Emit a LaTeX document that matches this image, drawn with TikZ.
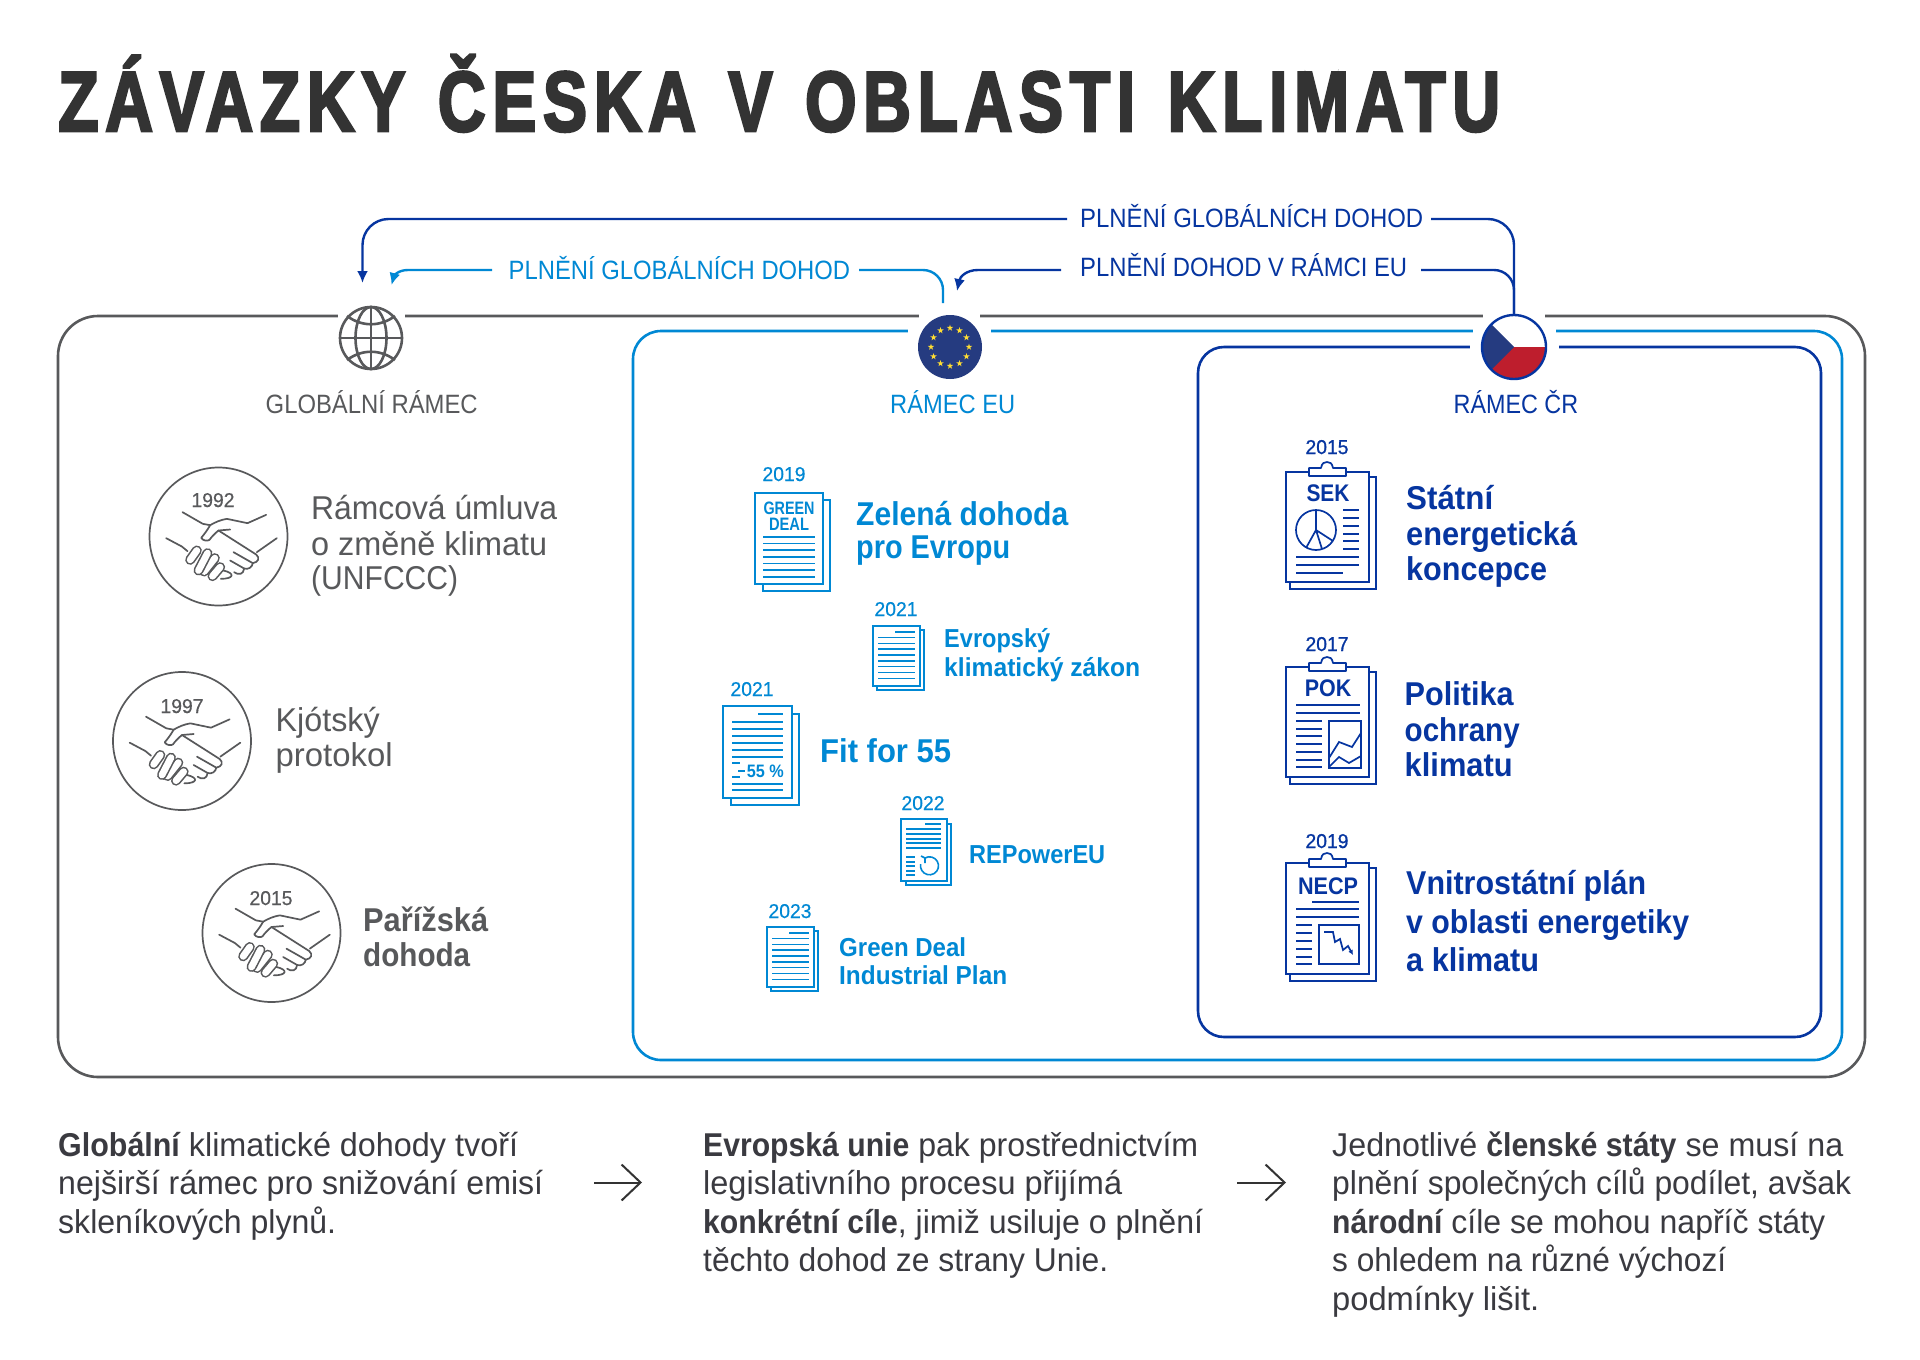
\documentclass[tikz,border=0pt]{standalone}
\usepackage{fontspec}
\usepackage{graphicx}
\setmainfont{Liberation Sans}
\newfontfamily\ttlf[LetterSpace=10,WordSpace=1.3,BoldFeatures={FakeBold=3.5}]{Liberation Sans}
\newfontfamily\medf[FakeBold=0.8]{Liberation Sans}
\newfontfamily\medg[FakeBold=0.4]{Liberation Sans}
\usetikzlibrary{arrows.meta}
\definecolor{gr}{HTML}{58595B}
\definecolor{cy}{HTML}{0088D4}
\definecolor{db}{HTML}{0635A0}
\definecolor{ttl}{HTML}{333333}
\definecolor{nvy}{HTML}{253B80}
\definecolor{rd}{HTML}{BE1E2D}
\definecolor{yl}{HTML}{FFDD33}
\definecolor{bt}{HTML}{3A3A40}
\newsavebox\fitbox
\newcommand\fitw[2]{\sbox\fitbox{#2}\pgfmathsetmacro\fitr{#1/\wd\fitbox}\scalebox{\fitr}[1]{\usebox\fitbox}}
\newcommand\bb[1]{\scalebox{0.94}[1]{\bfseries #1}}
% \T[style]{name}{x}{baseline y}{width}{text}
\newcommand\T[6][]{\node[anchor=base west,inner sep=0pt,#1] (#2) at (#3,#4) {\fitw{#5}{#6}};}
\newcommand\Y[5]{\node[anchor=base,inner sep=0pt,yearstyle,text=#1] (#2) at (#3,#4) {\fitw{43}{#5}};}
\newcommand\hands[2]{%
\begin{scope}[xshift=#1pt,yshift=-#2pt,x=0.3333pt,y=-0.3333pt,shift={(-265,-258)},line width=1.7pt,gr,line cap=round,line join=round]
\draw (157,185)--(218,220)--(240,224) .. controls (255,215) and (272,208) .. (290,205)--(352,218)--(408,193);
\draw (108,263)--(155,288)--(172,302);
\draw (440,263)--(380,305);
\draw (240,224) .. controls (232,238) and (222,252) .. (213,262) .. controls (220,272) and (232,272) .. (238,268) .. controls (245,258) and (255,248) .. (265,240)--(300,237);
\draw (265,240)--(378,312) .. controls (390,322) and (385,335) .. (368,338)--(310,305);
\draw (368,338) .. controls (366,350) and (355,358) .. (342,354)--(300,330);
\draw (342,354) .. controls (340,372) and (325,375) .. (312,365);
\draw (280,360) .. controls (315,368) and (312,385) .. (272,385);
\foreach \a/\b/\c/\d in {247/377/270/350,222/363/254/323,205/360/232/308,180/328/200/300}{
\draw[line width=10pt,gr] (\a,\b)--(\c,\d);
\draw[line width=6.8pt,white] (\a,\b)--(\c,\d);}
\end{scope}}
\newcommand\clipdoc[2]{%
\draw[docl,fill=white] (1290,#1+5) rectangle (1376,#2+7);
\draw[docl,fill=white] (1286,#1) rectangle (1369,#2);
\draw[docl,fill=white,line join=round] (1309,#1-4) -- (1321,#1-4) .. controls (1322,#1-9) and (1324,#1-10) .. (1327,#1-10) .. controls (1330,#1-10) and (1332,#1-9) .. (1333,#1-4) -- (1346,#1-4) -- (1346,#1+4) -- (1309,#1+4) -- cycle;
}
\tikzset{
 x=1pt,y=-1pt,
 mybox/.style={line width=2.6pt,rounded corners=#1},
 yearstyle/.style={font=\medg\fontsize{20}{22}\selectfont},
 docl/.style={line width=1.6pt,color=cy},
 link/.style={line width=2.4pt},
 tip/.style={-{Latex[length=12pt,width=11pt]}},
 gtxt/.style={font=\fontsize{33}{36}\selectfont,text=gr},
 gbold/.style={font=\fontsize{33}{36}\selectfont\bfseries,text=gr},
 hdr/.style={font=\fontsize{26.5}{30}\selectfont},
 body/.style={font=\fontsize{33}{36}\selectfont,text=bt},
 eubig/.style={font=\fontsize{33}{36}\selectfont\bfseries,text=cy},
 eusm/.style={font=\fontsize{26}{30}\selectfont\bfseries,text=cy},
 crbig/.style={font=\fontsize{33}{36}\selectfont\bfseries,text=db},
 doctitle/.style={anchor=base,inner sep=0pt,font=\fontsize{24}{24}\selectfont\bfseries,text=db},
 gdtitle/.style={anchor=base,inner sep=0pt,font=\fontsize{18}{18}\selectfont\bfseries,text=cy},
 hcircle/.style={circle,draw=gr,line width=1.7pt,minimum size=138pt,inner sep=0pt},
 badge/.style={circle,minimum size=64pt,inner sep=0pt},
 thinarrow/.style={color=ttl,line width=2pt,-{Straight Barb[length=19pt,width=36pt]}},
}
\begin{document}
\begin{tikzpicture}
\useasboundingbox (0,0) rectangle (1920,1360);
\fill[white] (0,0) rectangle (1920,1360);
% title
\T[font=\ttlf\bfseries\fontsize{85}{96}\selectfont,text=ttl]{title}{58}{131}{1442}{ZÁVAZKY ČESKA V OBLASTI KLIMATU}
% boxes
\draw[mybox=40pt,gr] (58,316) rectangle (1865,1077);
\draw[mybox=28pt,cy] (633,331) rectangle (1842,1060);
\draw[mybox=26pt,db] (1198,347) rectangle (1821,1037);
% knockouts
\foreach \a/\b in {338/405,919/980,1483/1545}{\draw[white,line width=5pt] (\a,316)--(\b,316);}
\foreach \a/\b in {908/991,1473/1556}{\draw[white,line width=5pt] (\a,331)--(\b,331);}
\draw[white,line width=5pt] (1470,347)--(1559,347);
% badges
\node[badge] (globe) at (371,338) {};
\node[badge] (eu) at (950,347) {};
\node[badge] (cz) at (1514,347) {};
% globe
\begin{scope}[gr,line width=2.6pt]
\draw (globe.center) circle (31);
\draw (globe.center) ellipse (15.5 and 31);
\draw (371,307)--(371,369);
\draw (340,338)--(402,338);
\draw (347,316) .. controls (362,327) and (380,327) .. (395,316);
\draw (347,360) .. controls (362,349) and (380,349) .. (395,360);
\end{scope}
% EU flag
\fill[nvy] (eu.center) circle (32);
\foreach \a in {0,30,...,330}{
\fill[yl,shift={(eu.center)},shift={(\a:19)}] (270:3.4)--(54:3.4)--(198:3.4)--(342:3.4)--(126:3.4)--cycle;}
% CZ flag
\begin{scope}
\clip (cz.center) circle (32);
\fill[white] (1482,315) rectangle (1546,347);
\fill[rd] (1482,347) rectangle (1546,379);
\fill[nvy] (1514,347)--(1470,303)--(1470,391)--cycle;
\end{scope}
\draw[db,line width=2.4pt] (cz.center) circle (32);
% connector labels
\T[hdr,text=db]{lglob}{1080}{227}{343}{PLNĚNÍ GLOBÁLNÍCH DOHOD}
\T[hdr,text=db]{leu}{1080}{276}{327}{PLNĚNÍ DOHOD V RÁMCI EU}
\T[hdr,text=cy]{lcy}{508.5}{279}{341.5}{PLNĚNÍ GLOBÁLNÍCH DOHOD}
% connectors
\coordinate (a1r) at (1431,219); \coordinate (a1l) at (1067,219); \coordinate (a1t) at (362.5,283); \coordinate (a1c) at (362.5,219);
\coordinate (a2r) at (1421,270); \coordinate (a2l) at (1061,270); \coordinate (a2t) at (957,291);
\coordinate (a3r) at (859,270); \coordinate (a3l) at (492,270); \coordinate (a3t) at (391.5,285); \coordinate (a3s) at (943,303); \coordinate (a3c) at (943,270);
\draw[link,db,rounded corners=26pt] (cz.north) |- (a1r);
\draw[link,db,rounded corners=26pt,tip] (a1l) -- (a1c) -- (a1t);
\draw[link,db,rounded corners=20pt] (cz.north) |- (a2r);
\draw[link,db,tip] (a2l) -- (978,270) .. controls (966,270) and (960,277) .. (a2t);
\draw[link,cy,rounded corners=20pt] (a3s) -- (a3c) -- (a3r);
\draw[link,cy,tip] (a3l) -- (408,270) .. controls (398,270) and (394,276) .. (a3t);
% headers
\T[hdr,text=gr]{hg}{265.5}{413}{212}{GLOBÁLNÍ RÁMEC}
\T[hdr,text=cy]{he}{890}{413}{125}{RÁMEC EU}
\T[hdr,text=db]{hc}{1453.5}{413}{124.5}{RÁMEC ČR}
% global column
\node[hcircle] (c1) at (218.5,536.5) {};
\node[hcircle] (c2) at (182,741) {};
\node[hcircle] (c3) at (271.5,933) {};
\hands{218.5}{536.5}\hands{182}{741}\hands{271.5}{933}
\Y{gr}{y1}{213}{507}{1992}
\Y{gr}{y2}{182}{713}{1997}
\Y{gr}{y3}{271}{905}{2015}
\T[gtxt]{g1a}{311}{519}{246}{Rámcová úmluva}
\T[gtxt]{g1b}{311}{555}{236}{o změně klimatu}
\T[gtxt]{g1c}{311}{589}{147}{(UNFCCC)}
\T[gtxt]{g2a}{275.5}{731}{104}{Kjótský}
\T[gtxt]{g2b}{275.5}{766}{117}{protokol}
\T[gbold]{g3a}{363}{931}{125}{Pařížská}
\T[gbold]{g3b}{363}{966}{107}{dohoda}
% EU docs
\Y{cy}{ey1}{784}{481}{2019}
\draw[docl,fill=white] (763,500) rectangle (830,591);
\draw[docl,fill=white] (755,493) rectangle (823,584);
\node[gdtitle] (gd1) at (789,514) {\fitw{51}{GREEN}};
\node[gdtitle] (gd2) at (789,530) {\fitw{40}{DEAL}};
\foreach \y in {537,543.5,550,557,563.5,570,577}{\draw[docl] (763,\y)--(815,\y);}
\T[eubig]{e1a}{856}{525}{212}{Zelená dohoda}
\T[eubig]{e1b}{856}{558}{154}{pro Evropu}
% doc 2
\Y{cy}{ey2}{896}{616}{2021}
\draw[docl,fill=white] (877,630) rectangle (924,690);
\draw[docl,fill=white] (873,626) rectangle (920,686);
\draw[docl] (895,632)--(915,632);
\foreach \y in {637.5,643.5,649,655,661,666.5,672.5,678.5}{\draw[docl] (878,\y)--(915,\y);}
\T[eusm]{e2a}{944}{647}{106}{Evropský}
\T[eusm]{e2b}{944}{676}{196}{klimatický zákon}
% doc 3
\Y{cy}{ey3}{752}{696}{2021}
\draw[docl,fill=white] (731,714) rectangle (799,805);
\draw[docl,fill=white] (723,706) rectangle (792,798);
\draw[docl] (758,714)--(783,714);
\foreach \y in {722,729,736,743,750,757,784,790}{\draw[docl] (732,\y)--(783,\y);}
\draw[docl] (732,763)--(740,763) (738,771)--(745,771) (732,777)--(740,777);
\node[anchor=base east,inner sep=0pt,font=\fontsize{18}{18}\selectfont\bfseries,text=cy] (p55) at (784,777) {\fitw{37}{55 \%}};
\T[eubig]{e3}{820}{762}{131}{Fit for 55}
% doc 4
\Y{cy}{ey4}{923}{810}{2022}
\draw[docl,fill=white] (906,824) rectangle (951,885);
\draw[docl,fill=white] (901,819) rectangle (947,881);
\draw[docl] (925,824)--(941,824);
\foreach \y in {829,834,839,843,848}{\draw[docl] (906,\y)--(941,\y);}
\foreach \y in {857,862,866,871,875}{\draw[docl] (906,\y)--(915,\y);}
\draw[docl] (925,858) arc (-120:190:9);
\draw[docl] (925,858)--(921,856) (925,858)--(925,863);
\T[eusm]{e4}{969}{863}{136}{REPowerEU}
% doc 5
\Y{cy}{ey5}{790}{918}{2023}
\draw[docl,fill=white] (771,931) rectangle (818,991);
\draw[docl,fill=white] (767,927) rectangle (814,987);
\draw[docl] (789,933)--(809,933);
\foreach \y in {938.5,944.5,950,956,962,967.5,973.5,979.5}{\draw[docl] (772,\y)--(809,\y);}
\T[eusm]{e5a}{839}{956}{127}{Green Deal}
\T[eusm]{e5b}{839}{984}{168}{Industrial Plan}
% CR docs
\tikzset{docl/.style={line width=1.7pt,color=db}}
\tikzset{yearstyle/.style={font=\medf\fontsize{20}{22}\selectfont}}
\Y{db}{cy1}{1327}{454}{2015}
\clipdoc{472}{582}
\node[doctitle] (sek) at (1328,501) {\fitw{43}{SEK}};
\draw[docl] (1316,530) circle (20);
\draw[docl] (1316,510)--(1316,530)--(1333,541) (1316,530)--(1322,549) (1316,530)--(1306,548);
\foreach \y in {510,518,526,534,541,549}{\draw[docl] (1343,\y)--(1359,\y);}
\draw[docl] (1296,557)--(1359,557) (1296,565)--(1359,565) (1296,573)--(1343,573);
\T[crbig]{c1a}{1406}{509}{87}{Státní}
\T[crbig]{c1b}{1406}{545}{171}{energetická}
\T[crbig]{c1c}{1406}{580}{141}{koncepce}
% POK
\Y{db}{cy2}{1327}{651}{2017}
\clipdoc{667}{777}
\node[doctitle] (pok) at (1328,696) {\fitw{46.5}{POK}};
\draw[docl] (1296,705)--(1360,705) (1296,713)--(1360,713);
\foreach \y in {721,729,736,744,752,760,767}{\draw[docl] (1296,\y)--(1322,\y);}
\draw[docl] (1329,721) rectangle (1361,768);
\draw[docl] (1329,758)--(1339,742)--(1352,747)--(1361,733);
\draw[docl] (1329,767)--(1339,757)--(1349,763)--(1361,756);
\T[crbig]{c2a}{1404.5}{705}{109}{Politika}
\T[crbig]{c2b}{1404.5}{741}{115}{ochrany}
\T[crbig]{c2c}{1404.5}{776}{108}{klimatu}
% NECP
\Y{db}{cy3}{1327}{848}{2019}
\clipdoc{863}{974}
\node[doctitle] (necp) at (1328,894) {\fitw{60}{NECP}};
\draw[docl] (1312,902)--(1359,902) (1296,909)--(1359,909) (1296,917)--(1359,917);
\foreach \y in {925,933,941,949,957,964}{\draw[docl] (1296,\y)--(1312,\y);}
\draw[docl] (1319,925) rectangle (1359,964);
\draw[docl,-{Latex[length=5pt,width=5pt]}] (1324,932)--(1333,932)--(1335,942)--(1340,939)--(1343,950)--(1348,946)--(1353,955);
\T[crbig]{c3a}{1406}{894}{240}{Vnitrostátní plán}
\T[crbig]{c3b}{1406}{933}{283}{v oblasti energetiky}
\T[crbig]{c3c}{1406}{971}{133}{a klimatu}
% bottom text
\T[body]{b1a}{58}{1156}{460}{\bb{Globální} klimatické dohody tvoří}
\T[body]{b1b}{58}{1194}{485}{nejširší rámec pro snižování emisí}
\T[body]{b1c}{58}{1233}{278}{skleníkových plynů.}
\T[body]{b2a}{703}{1156}{495}{\bb{Evropská unie} pak prostřednictvím}
\T[body]{b2b}{703}{1194}{419}{legislativního procesu přijímá}
\T[body]{b2c}{703}{1233}{500}{\bb{konkrétní cíle}, jimiž usiluje o plnění}
\T[body]{b2d}{703}{1271}{405}{těchto dohod ze strany Unie.}
\T[body]{b3a}{1332}{1156}{511}{Jednotlivé \bb{členské státy} se musí na}
\T[body]{b3b}{1332}{1194}{519}{plnění společných cílů podílet, avšak}
\T[body]{b3c}{1332}{1233}{493}{\bb{národní} cíle se mohou napříč státy}
\T[body]{b3d}{1332}{1271}{394}{s ohledem na různé výchozí}
\T[body]{b3e}{1332}{1310}{207}{podmínky lišit.}
% arrows
\coordinate (ar1a) at (594,1182.5); \coordinate (ar1b) at (642,1182.5);
\coordinate (ar2a) at (1237,1182.5); \coordinate (ar2b) at (1286,1182.5);
\draw[thinarrow] (ar1a)--(ar1b);
\draw[thinarrow] (ar2a)--(ar2b);
\end{tikzpicture}
\end{document}
